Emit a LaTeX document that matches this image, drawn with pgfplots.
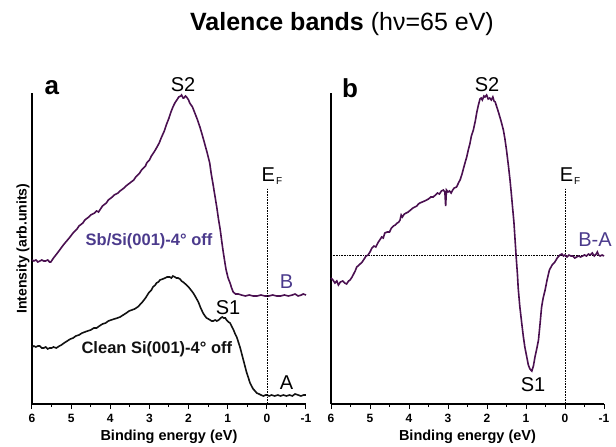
\documentclass[border=0pt]{standalone}
\usepackage{pgfplots}
\pgfplotsset{compat=1.18}
\usepackage{fontspec}
\setmainfont{Liberation Sans}
\definecolor{cpurp}{HTML}{4A1050}
\definecolor{lpurp}{HTML}{4B3A8C}
\definecolor{cblk}{HTML}{111111}
\newcommand{\fs}[1]{\fontsize{#1}{#1}\selectfont}
\pgfplotsset{
  vbstyle/.style={
    scale only axis, width=274pt, height=311pt,
    xmin=-1, xmax=6, ymin=0, ymax=311, x dir=reverse,
    axis x line=bottom, axis y line=left,
    axis line style={-, line width=1.1pt, black},
    xtick={6,5,4,3,2,1,0,-1},
    xticklabels={6,5,4,3,2,1,0,-1},
    minor xtick={5.5,4.5,3.5,2.5,1.5,0.5,-0.5},
    ytick=\empty,
    tick align=outside,
    major tick length=5pt, minor tick length=3pt,
    every tick/.style={black, line width=1pt},
    xticklabel style={font=\fs{12}\bfseries, yshift=-2pt},
    xlabel={Binding energy (eV)},
    xlabel style={font=\fs{14.5}\bfseries, yshift=0pt},
    clip=false,
  }
}
\begin{document}
\begin{tikzpicture}
\path (0,0) rectangle (616pt,445pt);
\node at (342pt,421pt) {\fs{25}\textbf{Valence bands} (hν=65 eV)};
% ---------------- panel a
\begin{axis}[vbstyle, at={(32pt,41pt)}, anchor=south west,
  ylabel={Intensity (arb.units)},
  ylabel style={font=\fs{14}\bfseries, yshift=-6pt}]
\addplot[cpurp, line width=1.6pt] coordinates {
(6.0,144)(5.95,143)(5.9,144)(5.85,142)(5.8,143)(5.75,144)(5.7,143)(5.65,143)(5.6,144)(5.55,142)(5.52,142)
(5.45,146)(5.35,151)(5.2,159)(5.05,166)(4.95,171)(4.85,175)(4.8,178)(4.7,181)(4.65,184)(4.55,187)(4.5,189)
(4.4,191)(4.35,193)(4.3,192)(4.2,198)(4.1,201)(4.05,204)(3.95,207)(3.9,209)(3.8,211)(3.75,213)(3.65,216)
(3.6,218)(3.5,221)(3.4,224)(3.35,227)(3.25,231)(3.2,234)(3.1,238)(3.07,241)(3.0,244)(2.95,248)(2.88,252)
(2.82,256)(2.75,261)(2.7,266)(2.62,273)(2.56,280)(2.5,286)(2.45,292)(2.4,297)(2.35,301)(2.3,304)(2.25,307)
(2.2,308)(2.18,309)(2.14,306)(2.12,306)(2.08,308)(2.05,307)(2.0,304)(1.97,301)(1.9,297)(1.85,292)(1.78,285)
(1.71,277)(1.65,269)(1.6,262)(1.53,252)(1.46,241)(1.42,230)(1.38,221)(1.33,209)(1.28,197)(1.24,186)
(1.19,174)(1.15,162)(1.11,151)(1.07,141)(1.04,134)(0.99,126)(0.94,121)(0.9,116)(0.86,112)(0.8,110)
(0.73,110)(0.65,109)(0.55,108)(0.45,109)(0.35,108)(0.25,108)(0.15,109)(0.05,108)(-0.05,108)(-0.15,109)
(-0.25,108)(-0.35,108)(-0.45,109)(-0.55,108)(-0.65,109)(-0.72,110)(-0.8,108)(-0.88,109)(-0.93,110)(-1.0,109)
};
\addplot[cblk, line width=1.6pt] coordinates {
(6.0,57)(5.95,58)(5.9,57)(5.85,58)(5.8,58)(5.75,56)(5.7,56)(5.65,57)(5.6,55)(5.55,56)(5.5,56)(5.45,57)
(5.38,56)(5.3,58)(5.25,59)(5.18,61)(5.1,63)(5.02,65)(4.95,66)(4.88,68)(4.8,69)(4.72,71)(4.65,72)(4.58,73)
(4.5,74)(4.42,76)(4.35,76)(4.28,78)(4.2,80)(4.12,81)(4.05,83)(3.98,84)(3.9,85)(3.82,86)(3.75,87)(3.67,89)
(3.59,91)(3.52,93)(3.45,94)(3.38,95)(3.3,97)(3.25,99)(3.18,102)(3.1,106)(3.02,111)(2.95,114)(2.91,117)
(2.85,119)(2.82,121)(2.77,122)(2.73,124)(2.66,125)(2.6,126)(2.55,127)(2.48,127)(2.44,126)(2.4,128)(2.35,127)
(2.31,126)(2.27,126)(2.22,125)(2.18,123)(2.14,122)(2.08,120)(2.0,117)(1.94,114)(1.88,111)(1.82,107)(1.75,102)
(1.69,96)(1.63,91)(1.58,88)(1.54,86)(1.49,85)(1.45,84)(1.41,83)(1.37,83)(1.32,84)(1.28,83)(1.23,84)(1.18,86)
(1.14,87)(1.1,86)(1.06,86)(1.03,84)(0.98,82)(0.94,81)(0.89,77)(0.85,74)(0.81,70)(0.77,67)(0.72,61)(0.68,56)
(0.64,50)(0.6,44)(0.56,38)(0.52,32)(0.47,26)(0.43,21)(0.39,18)(0.35,15)(0.3,13)(0.26,11)(0.2,10)(0.15,9)
(0.09,8)(0.03,9)(0.0,9)(-0.06,8)(-0.12,9)(-0.2,8)(-0.28,9)(-0.35,8)(-0.42,9)(-0.5,8)(-0.58,9)(-0.65,8)
(-0.72,10)(-0.8,9)(-0.87,8)(-0.94,9)(-1.0,9)
};
\addplot[black, densely dotted, line width=0.6pt] coordinates {(0,0)(0,216)};
\node[font=\fs{26}\bfseries] at (axis cs:5.49,316) {a};
\node[font=\fs{20}] at (axis cs:2.14,319) {S2};
\node[font=\fs{20}] at (axis cs:0.99,96) {S1};
\node[font=\fs{20}] at (axis cs:-0.13,228) {E\kern1pt\raisebox{-3pt}{\fs{10}F}};
\node[font=\fs{20}, text=lpurp] at (axis cs:-0.5,122) {B};
\node[font=\fs{20}] at (axis cs:-0.5,21) {A};
\node[font=\fs{16.5}\bfseries, text=lpurp] at (axis cs:3.01,163) {Sb/Si(001)-4° off};
\node[font=\fs{16.5}\bfseries, text=cblk] at (axis cs:2.81,55) {Clean Si(001)-4° off};
\end{axis}
% ---------------- panel b
\begin{axis}[vbstyle, width=273pt, at={(331pt,41pt)}, anchor=south west]
\addplot[black, densely dotted, line width=0.6pt] coordinates {(6,149)(-1,149)};
\addplot[black, densely dotted, line width=0.6pt] coordinates {(0,0)(0,216)};
\addplot[cpurp, line width=1.6pt] coordinates {
(6.0,126)(5.95,124)(5.9,121)(5.85,123)(5.81,119)(5.76,122)(5.7,123)(5.65,121)(5.6,120)(5.55,123)(5.51,124)
(5.46,127)(5.42,130)(5.38,133)(5.34,137)(5.28,139)(5.2,142)(5.15,145)(5.1,148)(5.05,149)(5.0,152)(4.95,156)
(4.9,158)(4.85,157)(4.8,161)(4.75,164)(4.7,167)(4.66,166)(4.62,171)(4.56,172)(4.5,172)(4.45,176)(4.4,178)
(4.35,179)(4.3,181)(4.26,182)(4.23,184)(4.2,189)(4.17,187)(4.12,190)(4.07,191)(4.02,192)(3.96,194)(3.9,196)
(3.85,197)(3.8,198)(3.76,200)(3.72,201)(3.66,202)(3.6,203)(3.55,204)(3.5,205)(3.44,207)(3.38,207)(3.32,209)
(3.27,211)(3.22,210)(3.17,213)(3.12,214)(3.08,212)(3.06,198)(3.04,214)(3.0,212)(2.96,213)(2.92,211)(2.88,214)
(2.84,216)(2.78,217)(2.72,222)(2.69,224)(2.64,230)(2.6,236)(2.55,243)(2.52,247)(2.48,254)(2.44,260)(2.4,268)
(2.35,274)(2.3,283)(2.26,292)(2.22,299)(2.18,305)(2.15,306)(2.12,304)(2.08,308)(2.05,307)(2.01,309)(1.97,305)
(1.93,306)(1.89,304)(1.85,307)(1.82,303)(1.79,302)(1.74,296)(1.7,291)(1.64,283)(1.58,274)(1.54,265)(1.5,254)
(1.45,238)(1.41,224)(1.38,212)(1.35,199)(1.31,182)(1.28,164)(1.25,146)(1.22,130)(1.2,116)(1.16,98)(1.11,81)
(1.07,68)(1.03,57)(0.98,47)(0.94,39)(0.9,35)(0.85,33)(0.81,38)(0.77,47)(0.72,56)(0.68,64)(0.64,80)(0.6,97)
(0.56,106)(0.51,114)(0.46,124)(0.4,134)(0.33,139)(0.26,142)(0.2,146)(0.13,149)(0.08,150)(0.04,148)(0.0,149)
(-0.05,147)(-0.1,149)(-0.15,148)(-0.2,148)(-0.25,146)(-0.3,147)(-0.35,148)(-0.4,147)(-0.45,148)(-0.5,149)
(-0.55,148)(-0.6,150)(-0.65,149)(-0.7,151)(-0.75,148)(-0.8,150)(-0.83,152)(-0.86,149)(-0.9,148)(-0.95,149)(-1.0,148)
};
\node[font=\fs{26}\bfseries] at (axis cs:5.51,316) {b};
\node[font=\fs{20}] at (axis cs:2.0,319) {S2};
\node[font=\fs{20}] at (axis cs:0.82,19) {S1};
\node[font=\fs{20}] at (axis cs:-0.13,228) {E\kern1pt\raisebox{-3pt}{\fs{10}F}};
\node[font=\fs{20}, text=lpurp] at (axis cs:-0.77,164) {B-A};
\end{axis}
\end{tikzpicture}
\end{document}
